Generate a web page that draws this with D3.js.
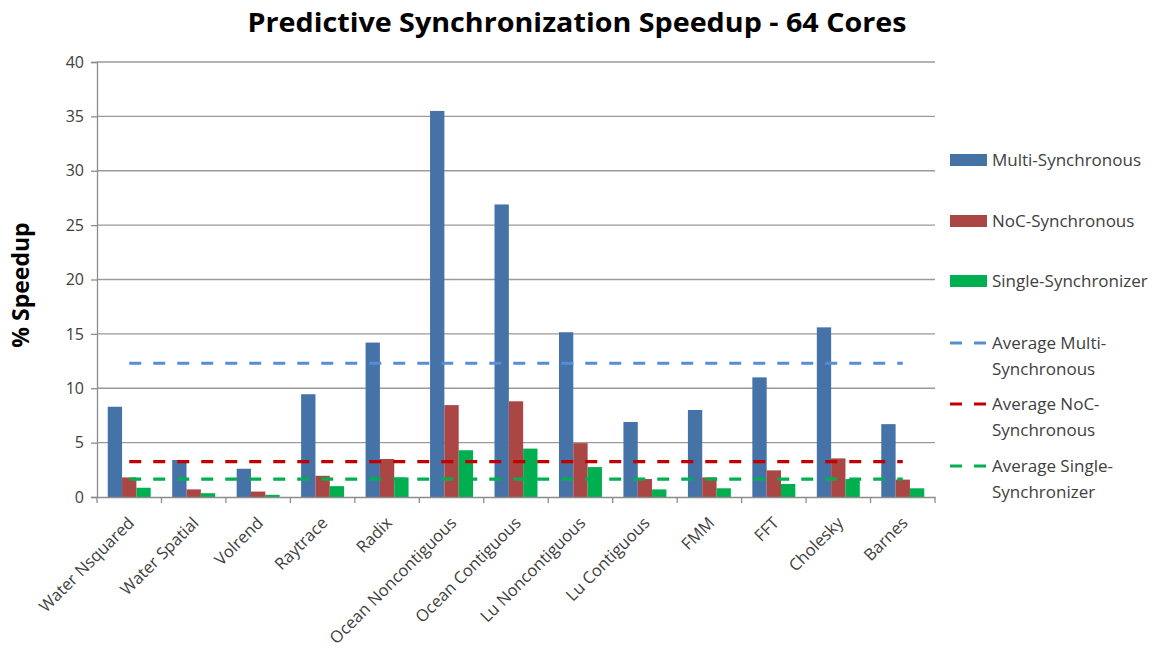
<!DOCTYPE html>
<html><head><meta charset="utf-8">
<script src="https://cdn.jsdelivr.net/npm/d3@7"></script>
<style>
body{margin:0;background:#fff;}
svg{display:block;font-family:"Open Sans",sans-serif;}
</style></head>
<body><svg id="c" width="1163" height="653"></svg>
<script>
const categories = ["Water Nsquared","Water Spatial","Volrend","Raytrace","Radix","Ocean Noncontiguous","Ocean Contiguous","Lu Noncontiguous","Lu Contiguous","FMM","FFT","Cholesky","Barnes"];
const multiSync = [8.3,3.4,2.6,9.45,14.2,35.5,26.9,15.15,6.9,8.0,11.0,15.6,6.7];
const nocSync   = [1.8,0.7,0.5,1.95,3.5,8.45,8.8,4.95,1.65,1.8,2.45,3.55,1.6];
const singleSync= [0.85,0.35,0.2,1.0,1.8,4.3,4.45,2.75,0.7,0.8,1.2,1.65,0.8];
const avgValues = [12.3,3.25,1.65];
const seriesNames = ["Multi-Synchronous","NoC-Synchronous","Single-Synchronizer"];
const avgNames = [["Average Multi-","Synchronous"],["Average NoC-","Synchronous"],["Average Single-","Synchronizer"]];
const yTicks = [0,5,10,15,20,25,30,35,40];

const barColors = ["#4572A7","#AA4643","#00B050"];
const avgColors = ["#558ED5","#C00000","#00B050"];

const svg = d3.select("#c");
const pL=97, pR=935, pT=62, pB=497;

const x = d3.scaleBand().domain(categories).range([pL,pR]).paddingInner(0).paddingOuter(0);
const xs = d3.scaleBand().domain([0,1,2]).range([0,x.bandwidth()]).paddingInner(0).paddingOuter(0.75);
const y = d3.scaleLinear().domain([0,40]).range([pB,pT]);

// gridlines
svg.append("g").selectAll("line").data(yTicks.filter(d=>d>0)).join("line")
  .attr("x1",pL).attr("x2",pR).attr("y1",d=>y(d)).attr("y2",d=>y(d))
  .attr("stroke","#9a9a9a").attr("stroke-width",1.3);

// y axis
const yAxis = d3.axisLeft(y).tickValues(yTicks).tickSize(6).tickPadding(7);
const ga = svg.append("g").attr("transform",`translate(${pL},0)`).call(yAxis);
ga.select(".domain").attr("stroke","#8c8c8c").attr("stroke-width",1.3);
ga.selectAll(".tick line").attr("stroke","#8c8c8c").attr("stroke-width",1.3);
ga.selectAll("text").attr("font-size",16).attr("fill","#404040").attr("font-family","'Open Sans',sans-serif");

// bars
const series = [multiSync,nocSync,singleSync];
series.forEach((vals,si)=>{
  svg.append("g").selectAll("rect").data(vals).join("rect")
    .attr("x",(d,i)=>x(categories[i])+xs(si))
    .attr("width",xs.bandwidth())
    .attr("y",d=>y(d))
    .attr("height",d=>y(0)-y(d))
    .attr("fill",barColors[si]);
});

// x axis
const xAxis = d3.axisBottom(x).tickSize(0).tickFormat("");
const gx = svg.append("g").attr("transform",`translate(0,${pB})`).call(xAxis);
gx.select(".domain").attr("stroke","#8c8c8c").attr("stroke-width",1.3);
const bounds = categories.map(c=>x(c)).concat([pR]);
gx.selectAll(".bt").data(bounds).join("line").attr("class","bt")
  .attr("x1",d=>d).attr("x2",d=>d).attr("y1",0).attr("y2",6)
  .attr("stroke","#8c8c8c").attr("stroke-width",1.3);
svg.append("g").selectAll("text").data(categories).join("text")
  .attr("transform",d=>`translate(${x(d)+x.bandwidth()/2+6},${pB+27}) rotate(-45)`)
  .attr("text-anchor","end").attr("font-size",16.5).attr("fill","#404040")
  .attr("font-family","'Open Sans',sans-serif")
  .text(d=>d);

// average lines
avgValues.forEach((v,i)=>{
  svg.append("line")
    .attr("x1",x(categories[0])+x.bandwidth()/2)
    .attr("x2",x(categories[categories.length-1])+x.bandwidth()/2)
    .attr("y1",y(v)).attr("y2",y(v))
    .attr("stroke",avgColors[i]).attr("stroke-width",3.2)
    .attr("stroke-dasharray","12,12");
});

// title
svg.append("text").attr("x",577).attr("y",32).attr("text-anchor","middle")
  .attr("font-size",27).attr("font-weight","bold").attr("fill","#000")
  .attr("font-family","'Open Sans',sans-serif").attr("textLength",659).attr("lengthAdjust","spacingAndGlyphs")
  .text("Predictive Synchronization Speedup - 64 Cores");

// y label
svg.append("text").attr("transform","translate(29,285) rotate(-90)").attr("text-anchor","middle")
  .attr("font-size",23).attr("font-weight","bold").attr("fill","#000")
  .attr("font-family","'Open Sans',sans-serif")
  .text("% Speedup");

// legend
const lg = svg.append("g").attr("font-family","'Open Sans',sans-serif").attr("font-size",17).attr("fill","#404040");
const barLegY = [160,221,281];
seriesNames.forEach((n,i)=>{
  lg.append("rect").attr("x",950).attr("y",barLegY[i]-6).attr("width",37).attr("height",12).attr("fill",barColors[i]);
  lg.append("text").attr("x",992).attr("y",barLegY[i]+6).text(n);
});
const avgLegY = [343,404,466];
avgNames.forEach((n,i)=>{
  lg.append("line").attr("x1",950).attr("x2",987).attr("y1",avgLegY[i]).attr("y2",avgLegY[i])
    .attr("stroke",avgColors[i]).attr("stroke-width",3).attr("stroke-dasharray","12,12");
  lg.append("text").attr("x",992).attr("y",avgLegY[i]+6).text(n[0]);
  lg.append("text").attr("x",992).attr("y",avgLegY[i]+32).text(n[1]);
});
</script></body></html>
